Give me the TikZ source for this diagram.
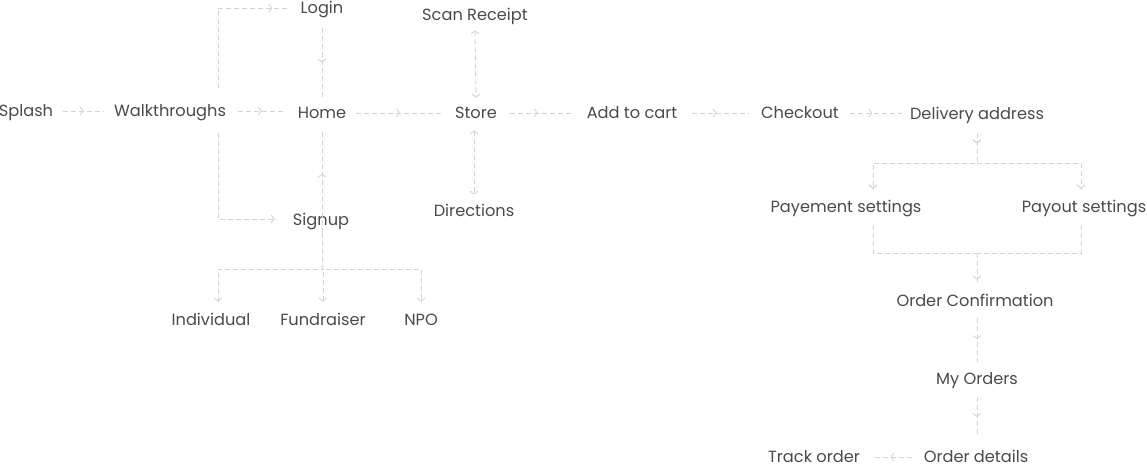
\documentclass[tikz,border=0pt]{standalone}
\usepackage{fontspec}
\setmainfont{Poppins}
\usetikzlibrary{arrows.meta,decorations.markings,calc}
\definecolor{txt}{HTML}{4A4A4A}
\definecolor{ln}{HTML}{D4D4D4}
\tikzset{
  lbl/.style={text=txt, font=\fontsize{16.2}{19}\selectfont, inner sep=0pt, text height=10.4pt, text depth=0pt, anchor=center},
  conn/.style={draw=ln, line width=0.9pt, dash pattern=on 5pt off 3pt},
  tipmark/.style={decoration={markings, mark=at position #1 with {\arrow[ln, line width=0.9pt]{Straight Barb[length=3pt,width=8pt]}}}, postaction=decorate},
  twoway/.style={{Straight Barb[length=3pt,width=8pt]}-{Straight Barb[length=3pt,width=8pt]}},
}
\begin{document}
\begin{tikzpicture}[x=1pt,y=-1pt]
\useasboundingbox (0,0) rectangle (1147,467);
% nodes
\node[lbl] (splash) at (26,111) {Splash};
\node[lbl] (walk) at (170,111) {Walkthroughs};
\node[lbl] (home) at (322,113) {Home};
\node[lbl] (login) at (322,8) {Login};
\node[lbl] (signup) at (321,220) {Signup};
\node[lbl] (ind) at (211,320) {Individual};
\node[lbl] (fund) at (323,320) {Fundraiser};
\node[lbl] (npo) at (421,320) {NPO};
\node[lbl] (scan) at (475,15) {Scan Receipt};
\node[lbl] (store) at (476,113) {Store};
\node[lbl] (dir) at (474,211) {Directions};
\node[lbl] (cart) at (632,113) {Add to cart};
\node[lbl] (check) at (800,113) {Checkout};
\node[lbl] (deliv) at (977,114) {Delivery address};
\node[lbl] (pay) at (846,207) {Payement settings};
\node[lbl] (payout) at (1084,207) {Payout settings};
\node[lbl] (conf) at (975,301) {Order Confirmation};
\node[lbl] (myord) at (977,379) {My Orders};
\node[lbl] (track) at (814,457) {Track order};
\node[lbl] (odet) at (976,457) {Order details};
% bus coordinates
\coordinate (wl) at (218,8);
\coordinate (ws) at (218,219);
\coordinate (sb) at (322,269);
\coordinate (db) at (977,163);
\coordinate (cb) at (977,253);
\coordinate (px) at (873,0);
\coordinate (qx) at (1081,0);
% connectors
\draw[conn, tipmark=0.5] ([xshift=10pt]splash.east) -- ([xshift=-10pt]splash.east -| walk.west);
\draw[conn, tipmark=0.5] ([xshift=12pt]walk.east) -- ([xshift=-12pt]walk.east -| home.west);
\draw[conn, tipmark=-16pt] ([yshift=18pt]walk.north -| wl) -- (wl) -- ([xshift=-12pt]login.west);
\draw[conn, tipmark=-2pt] ([yshift=-17pt]walk.south -| ws) -- (ws) -- ([xshift=-16pt]signup.west |- ws);
\draw[conn, tipmark=0.5] ([yshift=-15pt]login.south) -- ([yshift=11pt]home.north);
\draw[conn, tipmark=0.58] ([yshift=-8pt]signup.south -| home) -- ([yshift=-12pt]home.south);
\draw[conn, tipmark=-1pt] ([yshift=-8pt]signup.south -| sb) -- (sb) -| ([xshift=7pt,yshift=12pt]ind.north);
\draw[conn, tipmark=-1pt] ([yshift=-8pt]signup.south -| sb) -- (sb) -| ([yshift=12pt]fund.north);
\draw[conn, tipmark=-1pt] ([yshift=-8pt]signup.south -| sb) -- (sb) -| ([yshift=12pt]npo.north);
\draw[conn, tipmark=0.5] ([xshift=10pt]home.east) -- ([xshift=-11pt]store.west);
\draw[conn, twoway] ([yshift=-10pt]scan.south) -- ([yshift=10pt]store.north);
\draw[conn, twoway] ([yshift=-12pt]store.south -| dir) -- ([yshift=11pt]dir.north);
\draw[conn, tipmark=0.45] ([xshift=13pt]store.east) -- ([xshift=-15pt]cart.west);
\draw[conn, tipmark=0.43] ([xshift=15pt]cart.east) -- ([xshift=-12pt]check.west);
\draw[conn, tipmark=0.43] ([xshift=11pt]check.east) -- ([xshift=-8pt]deliv.west |- check.east);
\draw[conn, tipmark=10pt, tipmark=-1pt] ([yshift=-14pt]deliv.south) -- (db) -| ([yshift=12pt]pay.north -| px);
\draw[conn, tipmark=-1pt] (db) -| ([yshift=12pt]payout.north -| qx);
\draw[conn] ([yshift=-13pt]pay.south -| px) |- (cb);
\draw[conn] ([yshift=-13pt]payout.south -| qx) |- (cb);
\draw[conn, tipmark=-3pt] (cb) -- ([yshift=13pt]conf.north -| cb);
\draw[conn, tipmark=0.48] ([yshift=-12pt]conf.south -| myord) -- ([yshift=12pt]myord.north);
\draw[conn, tipmark=0.5] ([yshift=-13pt]myord.south) -- ([yshift=15pt]odet.north -| myord);
\draw[conn, tipmark=0.55] ([xshift=-12pt]odet.west) -- ([xshift=13pt]track.east);
\end{tikzpicture}
\end{document}
